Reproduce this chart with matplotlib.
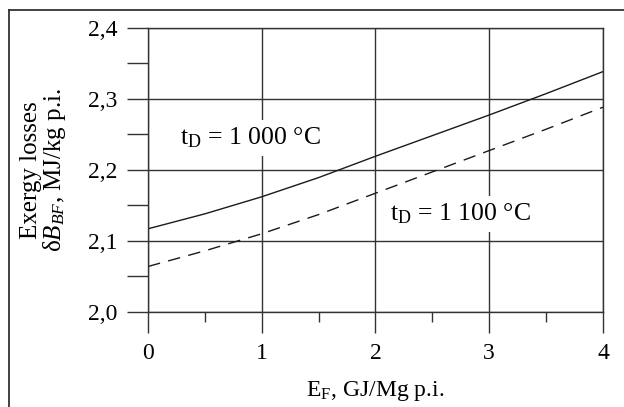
import matplotlib
matplotlib.use("Agg")
import matplotlib.pyplot as plt
from matplotlib.lines import Line2D
from matplotlib.ticker import MultipleLocator, FuncFormatter

plt.rcParams['font.family'] = ['Liberation Serif', 'DejaVu Serif']
plt.rcParams['mathtext.fontset'] = 'custom'
plt.rcParams['mathtext.rm'] = 'Liberation Serif'
plt.rcParams['mathtext.it'] = 'Liberation Serif:italic'

# fuel consumption E_F [GJ/Mg p.i.]
e_f = [0, 0.5, 1, 1.5, 2, 2.5, 3, 3.5, 4]
# exergy losses for the two blast temperatures
loss_1000 = [2.117, 2.138, 2.162, 2.189, 2.219, 2.248, 2.277, 2.307, 2.338]
loss_1100 = [2.064, 2.086, 2.110, 2.137, 2.167, 2.197, 2.227, 2.257, 2.288]

x_ticks = [0, 1, 2, 3, 4]
y_ticks = [2.0, 2.1, 2.2, 2.3, 2.4]

fig = plt.figure(figsize=(6.24, 4.07), dpi=100)
ax = fig.add_axes([148 / 624, 1 - 312 / 407, (603 - 148) / 624, (312 - 27.5) / 407])

ax.plot(e_f, loss_1000, color='#1a1a1a', lw=1.0)
ax.plot(e_f, loss_1100, color='#1a1a1a', lw=1.0, dashes=(9, 6))

ax.set_xlim(0, 4)
ax.set_ylim(2.0, 2.4)
ax.set_xticks(x_ticks)
ax.set_yticks(y_ticks)
ax.xaxis.set_minor_locator(MultipleLocator(0.5))
ax.yaxis.set_minor_locator(MultipleLocator(0.05))
ax.yaxis.set_major_formatter(FuncFormatter(lambda v, p: "{:.1f}".format(v).replace('.', ',')))

ax.grid(which='major', color='#333333', lw=1.0)
for sp in ax.spines.values():
    sp.set_color('#333333')
    sp.set_linewidth(1.0)

ax.tick_params(axis='x', which='major', direction='out', length=15, width=1.0,
               color='#333333', labelsize=17, pad=7)
ax.tick_params(axis='x', which='minor', direction='out', length=7, width=1.0, color='#333333')
ax.tick_params(axis='y', which='both', direction='out', length=15, width=1.0,
               color='#333333', labelsize=17, pad=7)

ax.set_xlabel("E$_\\mathrm{F}$, GJ/Mg p.i.", fontsize=17, labelpad=11)
ax.set_ylabel("Exergy losses\n$\\mathrm{\\delta}B_{BF}$, MJ/kg p.i.", fontsize=18,
              labelpad=14, linespacing=0.95)

box = dict(facecolor='white', edgecolor='none', pad=4)
ax.text(0.28, 2.245, "t$_\\mathrm{D}$ = 1 000 °C", fontsize=18.5, va='center', ha='left', bbox=box)
ax.text(2.13, 2.138, "t$_\\mathrm{D}$ = 1 100 °C", fontsize=18.5, va='center', ha='left', bbox=box)

# outer frame (only left and top edges visible)
fig.add_artist(Line2D([9 / 624, 9 / 624], [0, 1 - 10 / 407], transform=fig.transFigure,
                      color='#333333', lw=1.3))
fig.add_artist(Line2D([9 / 624, 1], [1 - 10 / 407, 1 - 10 / 407], transform=fig.transFigure,
                      color='#333333', lw=1.3))

plt.savefig("out.png", dpi=100)
